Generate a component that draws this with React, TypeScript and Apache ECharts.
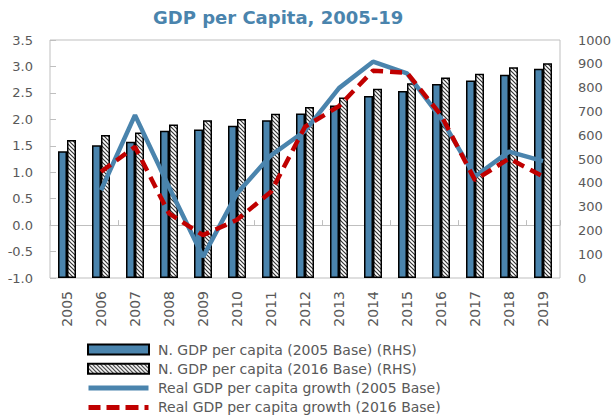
import React, { useEffect, useRef } from "react";
import * as echarts from "echarts";

const years = ["2005","2006","2007","2008","2009","2010","2011","2012","2013","2014","2015","2016","2017","2018","2019"];
const gdp2005Base = [533, 558, 572, 619, 624, 640, 663, 691, 725, 765, 786, 815, 830, 854, 879];
const gdp2016Base = [580, 601, 611, 645, 663, 668, 690, 718, 758, 795, 818, 842, 858, 885, 902];
const growth2005Base = [null, 0.66, 2.08, 0.72, -0.6, 0.6, 1.32, 1.78, 2.59, 3.09, 2.87, 2.02, 0.92, 1.39, 1.21];
const growth2016Base = [null, 1.01, 1.48, 0.22, -0.19, 0.1, 0.63, 1.86, 2.25, 2.92, 2.88, 2.08, 0.85, 1.26, 0.92];

const FONT = "'DejaVu Sans', Verdana, sans-serif";
const GRAY = "#595959";
const BLUE = "#4a84ad";
const RED = "#c00000";

// legend icon shapes (60x10 box kept by tiny corner marks)
const BOX = "M0,0L0.01,0L0,0.01Z M60,10L59.99,10L60,9.99Z ";
const SOLID_ICON = "path://" + BOX + "M0,2.5L60,2.5L60,7.5L0,7.5Z";
const DASH_ICON =
  "path://" + BOX +
  "M0,2.5L12,2.5L12,7.5L0,7.5Z M18,2.5L31,2.5L31,7.5L18,7.5Z M37,2.5L50,2.5L50,7.5L37,7.5Z M56,2.5L60,2.5L60,7.5L56,7.5Z";

function makeHatch(): HTMLCanvasElement {
  const c = document.createElement("canvas");
  c.width = 4;
  c.height = 4;
  const ctx = c.getContext("2d")!;
  ctx.fillStyle = "#ffffff";
  ctx.fillRect(0, 0, 4, 4);
  ctx.strokeStyle = "#333333";
  ctx.lineWidth = 1.2;
  ctx.beginPath();
  ctx.moveTo(-1, -1); ctx.lineTo(5, 5);
  ctx.moveTo(-1, 3); ctx.lineTo(1, 5);
  ctx.moveTo(3, -1); ctx.lineTo(5, 1);
  ctx.stroke();
  return c;
}

export default function App() {
  const ref = useRef<HTMLDivElement>(null);
  useEffect(() => {
    if (!ref.current) return;
    const chart = echarts.init(ref.current, undefined, { renderer: "svg" });
    const hatch = makeHatch();
    chart.setOption({
      animation: false,
      title: {
        text: "GDP per Capita, 2005-19",
        left: 148,
        top: 3,
        textStyle: { fontFamily: FONT, fontSize: 18, fontWeight: "bold", color: BLUE },
      },
      grid: { left: 50, right: 55, top: 40, bottom: 139, show: true, borderColor: "#bfbfbf", borderWidth: 1 },
      legend: {
        orient: "vertical",
        left: 82,
        top: 335,
        height: 120,
        itemWidth: 61,
        itemHeight: 10,
        itemGap: 0.3,
        textStyle: { fontFamily: FONT, fontSize: 14, color: GRAY, lineHeight: 19, padding: [0, 0, 0, 4] },
        data: [
          { name: "N. GDP per capita (2005 Base) (RHS)", icon: "rect" },
          { name: "N. GDP per capita (2016 Base) (RHS)", icon: "rect" },
          { name: "Real GDP per capita growth (2005 Base)", icon: SOLID_ICON },
          { name: "Real GDP per capita growth (2016 Base)", icon: DASH_ICON },
        ],
      },
      xAxis: [
        {
          type: "category",
          data: years,
          position: "bottom",
          axisLine: { show: false },
          axisTick: { show: false },
          axisLabel: { rotate: 90, margin: 13, fontFamily: FONT, fontSize: 14, color: GRAY },
        },
        {
          type: "category",
          data: years,
          position: "top",
          axisLine: { show: true, onZero: true, onZeroAxisIndex: 0, lineStyle: { color: "#bfbfbf", width: 1 } },
          axisTick: { show: true, length: 5, lineStyle: { color: "#bfbfbf" } },
          axisLabel: { show: false },
        },
      ],
      yAxis: [
        {
          type: "value",
          min: -1,
          max: 3.5,
          interval: 0.5,
          axisLine: { show: false },
          axisTick: { show: true, inside: true, length: 6, lineStyle: { color: "#bfbfbf" } },
          splitLine: { show: false },
          axisLabel: {
            margin: 17,
            fontFamily: FONT,
            fontSize: 13,
            color: GRAY,
            formatter: (v: number) => v.toFixed(1),
          },
        },
        {
          type: "value",
          min: 0,
          max: 1000,
          interval: 100,
          axisLine: { show: false },
          axisTick: { show: false },
          splitLine: { show: false },
          axisLabel: { margin: 18, fontFamily: FONT, fontSize: 13, color: GRAY, formatter: (v: number) => String(v) },
        },
      ],
      series: [
        {
          name: "N. GDP per capita (2005 Base) (RHS)",
          type: "bar",
          yAxisIndex: 1,
          data: gdp2005Base,
          barWidth: 9,
          barGap: "0%",
          itemStyle: { color: BLUE, borderColor: "#000000", borderWidth: 1.5 },
        },
        {
          name: "N. GDP per capita (2016 Base) (RHS)",
          type: "bar",
          yAxisIndex: 1,
          data: gdp2016Base,
          barWidth: 9,
          barGap: "0%",
          itemStyle: { color: { image: hatch, repeat: "repeat" }, borderColor: "#000000", borderWidth: 1.5 },
        },
        {
          name: "Real GDP per capita growth (2005 Base)",
          type: "line",
          yAxisIndex: 0,
          data: growth2005Base,
          symbol: "none",
          lineStyle: { color: BLUE, width: 4.5 },
          itemStyle: { color: BLUE },
          z: 3,
        },
        {
          name: "Real GDP per capita growth (2016 Base)",
          type: "line",
          yAxisIndex: 0,
          data: growth2016Base,
          symbol: "none",
          lineStyle: { color: RED, width: 4.5, type: [12, 7] },
          itemStyle: { color: RED },
          z: 4,
        },
      ],
    });
    return () => chart.dispose();
  }, []);
  return <div ref={ref} style={{ width: 615, height: 417, position: "absolute", left: 0, top: 0 }} />;
}
